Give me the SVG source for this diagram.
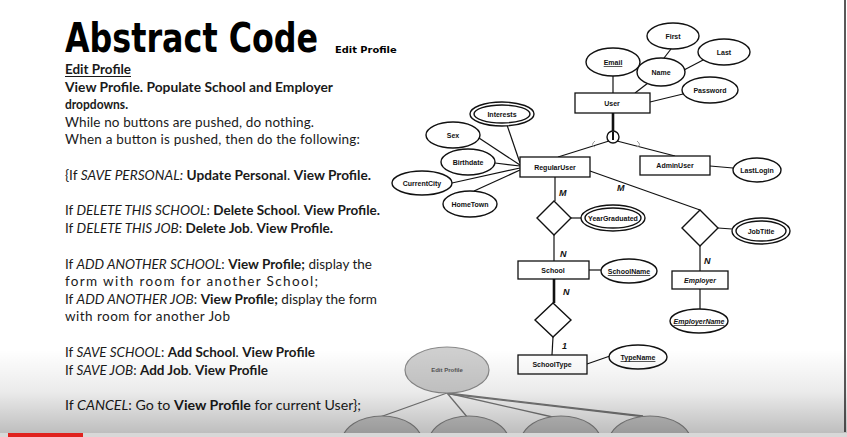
<svg xmlns="http://www.w3.org/2000/svg" width="847" height="437" viewBox="0 0 847 437">
<defs>
<style>
.t{font-family:Lato,"Liberation Sans",Arial,sans-serif;font-size:13.5px;fill:#1a1a1a}
.b{font-weight:bold}
.i{font-style:italic}
.er{font-family:"Liberation Sans",Arial,sans-serif;font-size:7px;fill:#111;text-anchor:middle;font-weight:bold}
.ln{stroke:#111;stroke-width:1.2;fill:none}
.thick{stroke:#111;stroke-width:2.6;fill:none}
.ent{fill:#fff;stroke:#111;stroke-width:1.3}
.att{fill:#fff;stroke:#111;stroke-width:1.4}
.card{font-family:"Liberation Sans",Arial,sans-serif;font-size:9px;font-style:italic;font-weight:bold;fill:#111}
.gn{fill:#cfcfcf;stroke:#8a8a8a;stroke-width:1.2}
.gl{stroke:#7a7a7a;stroke-width:1.3;fill:none}
</style>
<linearGradient id="fade" x1="0" y1="0" x2="0" y2="1">
<stop offset="0" stop-color="#000" stop-opacity="0"/>
<stop offset="0.5" stop-color="#000" stop-opacity="0.08"/>
<stop offset="1" stop-color="#000" stop-opacity="0.26"/>
</linearGradient>
</defs>
<rect width="847" height="437" fill="#fff"/>

<!-- Title -->
<text transform="translate(65,52) scale(0.74,1)" x="0" y="0" font-family="'DejaVu Sans',sans-serif" font-weight="bold" font-size="40" fill="#000" textLength="342" lengthAdjust="spacingAndGlyphs">Abstract Code</text>
<text transform="translate(335,53) scale(0.8,1)" x="0" y="0" font-family="'DejaVu Sans',sans-serif" font-weight="bold" font-size="9" fill="#000" textLength="77" lengthAdjust="spacingAndGlyphs">Edit Profile</text>

<!-- Abstract code text -->
<g id="abstract-code">
<text class="t b" x="65" y="74" textLength="66" lengthAdjust="spacingAndGlyphs">Edit Profile</text>
<line x1="65" y1="76.5" x2="131" y2="76.5" stroke="#1a1a1a" stroke-width="1"/>
<text class="t b" x="65" y="92" textLength="268" lengthAdjust="spacingAndGlyphs">View Profile. Populate School and Employer</text>
<text class="t b" x="65" y="109" textLength="63" lengthAdjust="spacingAndGlyphs">dropdowns.</text>
<text class="t" x="65" y="127" textLength="249" lengthAdjust="spacing">While no buttons are pushed, do nothing.</text>
<text class="t" x="65" y="144" textLength="295" lengthAdjust="spacing">When a button is pushed,  then do the following:</text>
<text class="t" x="65" y="180" textLength="306" lengthAdjust="spacingAndGlyphs">{If <tspan class="i">SAVE PERSONAL:</tspan> <tspan class="b">Update Personal</tspan>. <tspan class="b">View Profile.</tspan></text>
<text class="t" x="65" y="215" textLength="315" lengthAdjust="spacingAndGlyphs">If <tspan class="i">DELETE THIS SCHOOL</tspan>: <tspan class="b">Delete School</tspan>. <tspan class="b">View Profile.</tspan></text>
<text class="t" x="65" y="233" textLength="268" lengthAdjust="spacingAndGlyphs">If <tspan class="i">DELETE THIS JOB</tspan>: <tspan class="b">Delete Job</tspan>. <tspan class="b">View Profile.</tspan></text>
<text class="t" x="65" y="269" textLength="307" lengthAdjust="spacingAndGlyphs">If <tspan class="i">ADD ANOTHER SCHOOL</tspan>: <tspan class="b">View Profile;</tspan> display the</text>
<text class="t" x="65" y="286" textLength="253" lengthAdjust="spacing">form with room for another School;</text>
<text class="t" x="65" y="304" textLength="312" lengthAdjust="spacingAndGlyphs">If <tspan class="i">ADD ANOTHER JOB</tspan>: <tspan class="b">View Profile;</tspan> display the form</text>
<text class="t" x="65" y="321" textLength="165" lengthAdjust="spacing">with room for another Job</text>
<text class="t" x="65" y="357" textLength="250" lengthAdjust="spacingAndGlyphs">If <tspan class="i">SAVE SCHOOL</tspan>: <tspan class="b">Add School</tspan>. <tspan class="b">View Profile</tspan></text>
<text class="t" x="65" y="375" textLength="203" lengthAdjust="spacingAndGlyphs">If <tspan class="i">SAVE JOB</tspan>: <tspan class="b">Add Job</tspan>. <tspan class="b">View Profile</tspan></text>
<text class="t" x="65" y="410" textLength="296" lengthAdjust="spacingAndGlyphs">If <tspan class="i">CANCEL</tspan>: Go to <tspan class="b">View Profile</tspan> for current User};</text>
</g>

<!-- ER connectors -->
<g id="connectors">
<line class="ln" x1="613" y1="76" x2="613" y2="93"/>
<line class="ln" x1="671" y1="49" x2="664" y2="58"/>
<line class="ln" x1="684" y1="70" x2="705" y2="59"/>
<line class="ln" x1="648" y1="83" x2="635" y2="93"/>
<line class="ln" x1="683" y1="94" x2="650" y2="102"/>
<line class="thick" x1="613" y1="113" x2="613" y2="132"/>
<line class="ln" x1="609" y1="141" x2="558" y2="157"/>
<line class="ln" x1="617" y1="141" x2="675" y2="156"/>
<path d="M595,141 q-5,4 0,6" stroke="#999" stroke-width="1" fill="none"/>
<path d="M637,141 q5,4 0,6" stroke="#999" stroke-width="1" fill="none"/>
<line class="ln" x1="507" y1="125" x2="520" y2="163"/>
<line class="ln" x1="479" y1="138" x2="520" y2="165"/>
<line class="ln" x1="495" y1="163" x2="520" y2="166"/>
<line class="ln" x1="452" y1="183" x2="520" y2="168"/>
<line class="ln" x1="474" y1="191" x2="520" y2="170"/>
<line class="ln" x1="710" y1="166" x2="733" y2="168"/>
<line class="ln" x1="590" y1="171" x2="700" y2="210"/>
<line class="ln" x1="718" y1="228" x2="732" y2="229"/>
<line class="ln" x1="700" y1="246" x2="700" y2="271"/>
<line class="ln" x1="700" y1="289" x2="700" y2="309"/>
<line class="ln" x1="555" y1="177" x2="555" y2="201"/>
<line class="ln" x1="571" y1="218" x2="581" y2="218"/>
<line class="ln" x1="554" y1="235" x2="554" y2="261"/>
<line class="ln" x1="589" y1="270" x2="601" y2="270"/>
<line class="thick" x1="554" y1="279" x2="554" y2="303"/>
<line class="ln" x1="553" y1="337" x2="552" y2="355"/>
<line class="ln" x1="587" y1="364" x2="610" y2="356"/>
</g>

<!-- Cardinalities -->
<text class="card" x="559" y="196">M</text>
<text class="card" x="617" y="191">M</text>
<text class="card" x="560" y="257">N</text>
<text class="card" x="704" y="264">N</text>
<text class="card" x="563" y="295">N</text>
<text class="card" x="562" y="349">1</text>

<!-- ER nodes -->
<g id="User"><rect class="ent" x="575" y="93" width="75" height="20"/><text class="er" x="612" y="106">User</text></g>
<g id="Email"><ellipse class="att" cx="613" cy="62" rx="27" ry="14"/><text class="er" x="613" y="65" text-decoration="underline">Email</text></g>
<g id="First"><ellipse class="att" cx="673" cy="36" rx="26" ry="13"/><text class="er" x="673" y="39">First</text></g>
<g id="Name"><ellipse class="att" cx="661" cy="72" rx="24" ry="14"/><text class="er" x="661" y="75">Name</text></g>
<g id="Last"><ellipse class="att" cx="724" cy="52" rx="26" ry="13"/><text class="er" x="724" y="55">Last</text></g>
<g id="Password"><ellipse class="att" cx="710" cy="90" rx="28" ry="13"/><text class="er" x="710" y="93">Password</text></g>
<g id="ISA"><circle class="att" cx="613" cy="137" r="6"/><line x1="613" y1="132" x2="613" y2="140" stroke="#111" stroke-width="2"/></g>
<g id="RegularUser"><rect class="ent" x="520" y="157" width="70" height="20"/><text class="er" x="555" y="170">RegularUser</text></g>
<g id="Interests"><ellipse class="att" cx="502" cy="114" rx="32" ry="12"/><ellipse class="att" cx="502" cy="114" rx="28" ry="9"/><text class="er" x="502" y="117">Interests</text></g>
<g id="Sex"><ellipse class="att" cx="453" cy="135" rx="27" ry="13"/><text class="er" x="453" y="138">Sex</text></g>
<g id="Birthdate"><ellipse class="att" cx="468" cy="162" rx="27" ry="13"/><text class="er" x="468" y="165">Birthdate</text></g>
<g id="CurrentCity"><ellipse class="att" cx="422" cy="183" rx="30" ry="12"/><text class="er" x="422" y="186">CurrentCity</text></g>
<g id="HomeTown"><ellipse class="att" cx="470" cy="204" rx="27" ry="13"/><text class="er" x="470" y="207">HomeTown</text></g>
<g id="AdminUser"><rect class="ent" x="640" y="156" width="70" height="19"/><text class="er" x="675" y="168">AdminUser</text></g>
<g id="LastLogin"><ellipse class="att" cx="757" cy="170" rx="24" ry="12"/><text class="er" x="757" y="173">LastLogin</text></g>
<g id="WorksAt"><polygon class="att" points="700,210 718,228 700,246 682,228"/></g>
<g id="JobTitle"><ellipse class="att" cx="761" cy="231" rx="29" ry="13"/><ellipse class="att" cx="761" cy="231" rx="25" ry="10"/><text class="er" x="761" y="234">JobTitle</text></g>
<g id="Employer"><rect class="ent" x="672" y="271" width="56" height="18"/><text class="er" x="700" y="283" font-style="italic">Employer</text></g>
<g id="EmployerName"><ellipse class="att" cx="699" cy="321" rx="29" ry="12"/><text class="er" x="699" y="324" text-decoration="underline" font-style="italic">EmployerName</text></g>
<g id="Attended"><polygon class="att" points="554,201 571,218 554,235 537,218"/></g>
<g id="YearGraduated"><ellipse class="att" cx="613" cy="218" rx="32" ry="13"/><ellipse class="att" cx="613" cy="218" rx="28" ry="10"/><text class="er" x="613" y="221">YearGraduated</text></g>
<g id="School"><rect class="ent" x="518" y="261" width="71" height="18"/><text class="er" x="553" y="273">School</text></g>
<g id="SchoolName"><ellipse class="att" cx="629" cy="271" rx="28" ry="12"/><text class="er" x="629" y="274" text-decoration="underline">SchoolName</text></g>
<g id="OfType"><polygon class="att" points="553,303 571,320 553,337 535,320"/></g>
<g id="SchoolType"><rect class="ent" x="518" y="355" width="69" height="19"/><text class="er" x="552" y="367">SchoolType</text></g>
<g id="TypeName"><ellipse class="att" cx="638" cy="357" rx="29" ry="12"/><text class="er" x="638" y="360" text-decoration="underline">TypeName</text></g>

<!-- Gray tree at bottom -->
<g id="tree-connectors">
<line class="gl" x1="447" y1="393" x2="380" y2="417"/>
<line class="gl" x1="447" y1="393" x2="468" y2="418"/>
<line class="gl" x1="447" y1="393" x2="557" y2="418"/>
<line class="gl" x1="447" y1="393" x2="643" y2="416"/>
<line class="gl" x1="449" y1="394" x2="646" y2="417"/>
</g>
<g id="EditProfileNode"><ellipse class="gn" cx="447" cy="370" rx="42" ry="23"/><text x="447" y="372" font-family="'Liberation Sans',sans-serif" font-size="6" fill="#555" text-anchor="middle" font-weight="bold">Edit Profile</text></g>
<g id="child1"><ellipse class="gn" cx="382" cy="442" rx="40" ry="26"/></g>
<g id="child2"><ellipse class="gn" cx="469" cy="442" rx="40" ry="26"/></g>
<g id="child3"><ellipse class="gn" cx="561" cy="442" rx="40" ry="26"/></g>
<g id="child4"><ellipse class="gn" cx="650" cy="442" rx="41" ry="26"/></g>

<!-- video overlay -->
<rect x="0" y="350" width="847" height="84" fill="url(#fade)"/>
<line x1="845" y1="0" x2="845" y2="432" stroke="#222" stroke-width="1.5"/>
<rect x="0" y="433" width="847" height="4" fill="#d8d8d8"/>
<rect x="8" y="433" width="75" height="4" fill="#e0221e"/>
</svg>
